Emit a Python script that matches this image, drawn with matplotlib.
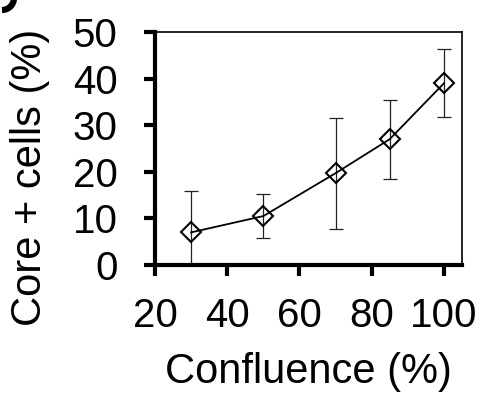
import numpy as np
from matplotlib import pyplot as plt
from matplotlib.patches import Arc

plt.rcParams['font.family'] = ['Liberation Sans', 'DejaVu Sans']

# data
confluence = [30, 50, 70, 85, 100]
core_pos = [7.0, 10.5, 19.7, 27.0, 39.0]
core_err = [8.8, 4.7, 11.9, 8.5, 7.3]
x_ticks = [20, 40, 60, 80, 100]
y_ticks = [0, 10, 20, 30, 40, 50]

W, H = 484, 398
fig = plt.figure(figsize=(W / 100, H / 100), dpi=100)
ax = fig.add_axes([0.3202, 0.3342, 0.6343, 0.5854])

ax.errorbar(confluence, core_pos, yerr=core_err, fmt='none', ecolor='#222222',
            elinewidth=0.9, capsize=5, capthick=0.9, zorder=2)
ax.plot(confluence, core_pos, color='black', lw=1.3, marker='D', ms=10.5,
        mfc='none', mec='black', mew=1.5, zorder=3)

ax.set_xlim(20, 105)
ax.set_ylim(0, 50)
ax.set_xticks(x_ticks)
ax.set_yticks(y_ticks)

ax.tick_params(axis='both', labelsize=29, width=3, length=8, direction='out')
ax.tick_params(axis='y', pad=19)
ax.tick_params(axis='x', pad=15)
for side in ['left', 'bottom']:
    ax.spines[side].set_linewidth(3)
for side in ['top', 'right']:
    ax.spines[side].set_linewidth(1.2)

ax.set_xlabel('Confluence (%)', fontsize=30, labelpad=12)
fig.text(0.063, 0.555, 'Core + cells (%)', rotation=90, fontsize=30,
         ha='center', va='center')

# leftover of the panel letter, cut by the crop
r = 12
fig.add_artist(Arc((2 / W, 1 + 2 / H), 2 * r / W, 2 * r / H, theta1=270, theta2=360,
                   transform=fig.transFigure, lw=4.5, color='black'))

fig.savefig('out.png', dpi=100)
